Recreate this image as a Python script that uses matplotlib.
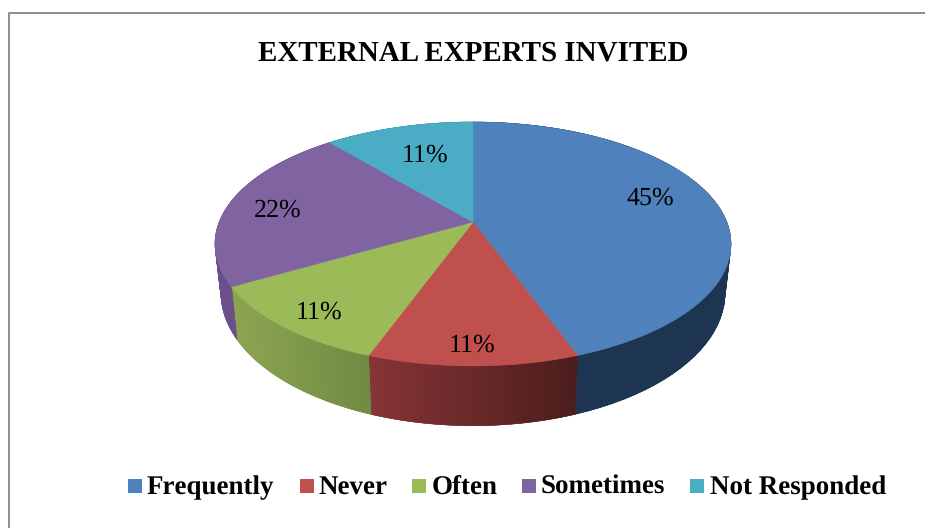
import numpy as np
import matplotlib
matplotlib.use("Agg")
import matplotlib.pyplot as plt
from matplotlib.colors import to_rgb

title = "EXTERNAL EXPERTS INVITED"
categories = ["Frequently", "Never", "Often", "Sometimes", "Not Responded"]
counts = [8, 2, 2, 4, 2]
pct_labels = ["45%", "11%", "11%", "22%", "11%"]
top_colors = ["#4f81bd", "#c0504d", "#9bbb59", "#8064a2", "#4bacc6"]
wall_left = ["#1d3550", "#873537", "#8ea653", "#6a4f8a", "#2f7f94"]
wall_right = ["#1d3550", "#4b1d1c", "#6f8a42", "#6a4f8a", "#2f7f94"]

# pixel layout
label_xy = [(650, 198), (472, 345), (319, 312), (278, 210), (425, 155)]
swatch_x = [128, 300, 412, 522, 690]
legend_x = [147, 318.5, 432, 541, 710]
cx, cy = 473, 222
k = 0.18
a = 118
b = 253.8

plt.rcParams["font.family"] = ["Liberation Serif", "DejaVu Serif"]
plt.rcParams["text.hinting"] = "no_hinting"
plt.rcParams["text.hinting_factor"] = 1


def top_xy(ang):
    # ang in degrees, clockwise from 12 o'clock, perspective view of the disc
    t = np.radians(ang)
    x = np.sin(t)
    y = np.cos(t)
    d = 1 + k * y
    return b * x / d, -a * y / d


def bottom_xy(ang):
    x, y = top_xy(ang)
    return 0.977 * x, 47 + 1.089 * y


fig = plt.figure(figsize=(9.25, 5.28), dpi=100)
ax = fig.add_axes([0, 0, 1, 1])
ax.set_xlim(0, 925)
ax.set_ylim(528, 0)
ax.axis("off")

# chart frame, only left and top show in the crop
ax.plot([9, 9, 925], [528, 12.5, 12.5], color="#8c8c8c", lw=1.4)

shares = np.array(counts) / sum(counts) * 360
edges = np.concatenate([[0], np.cumsum(shares)])

# side walls first, a base shape and then thin strips for the shading
for i in range(len(counts)):
    angs = np.linspace(edges[i], edges[i + 1], 60)
    tx, ty = top_xy(angs)
    bx, by = bottom_xy(angs)
    c0 = np.array(to_rgb(wall_left[i]))
    c1 = np.array(to_rgb(wall_right[i]))
    ax.fill(cx + np.r_[tx, bx[::-1]], cy + np.r_[ty, by[::-1]],
            color=(c0 + c1) / 2, lw=0.3)
    lo, hi = tx.min(), tx.max()
    for j in range(len(angs) - 1):
        f = (0.5 * (tx[j] + tx[j + 1]) - lo) / (hi - lo)
        col = c0 + (c1 - c0) * f
        ax.fill([cx + tx[j], cx + tx[j + 1], cx + bx[j + 1], cx + bx[j]],
                [cy + ty[j], cy + ty[j + 1], cy + by[j + 1], cy + by[j]],
                color=col, lw=0.3)

# top of the pie
for i in range(len(counts)):
    angs = np.linspace(edges[i], edges[i + 1], 120)
    tx, ty = top_xy(angs)
    ax.fill(np.r_[cx, cx + tx], np.r_[cy, cy + ty], color=top_colors[i], lw=0.4)

for i in range(len(counts)):
    ax.text(label_xy[i][0], label_xy[i][1], pct_labels[i], fontsize=18.5,
            ha="center", va="center", color="black")

ax.text(473, 61, title, fontsize=21.2, fontweight="bold", ha="center", va="baseline")

for i in range(len(categories)):
    ax.fill([swatch_x[i], swatch_x[i] + 14, swatch_x[i] + 14, swatch_x[i]],
            [479, 479, 493, 493], color=top_colors[i], lw=0)
    ax.text(legend_x[i], 494, categories[i], fontsize=19.2, fontweight="bold",
            ha="left", va="baseline")

fig.savefig("out.png", dpi=100)
